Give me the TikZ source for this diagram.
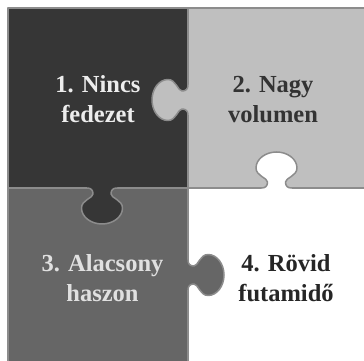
\documentclass[tikz,border=0pt]{standalone}
\usepackage{fontspec}
\setmainfont{Liberation Serif}
\usetikzlibrary{calc}

\definecolor{darkpiece}{HTML}{363636}
\definecolor{lightpiece}{HTML}{BFBFBF}
\definecolor{midpiece}{HTML}{666666}
\definecolor{seam}{HTML}{8C8C8C}

% one tab: base point, rotation, fill colour
\newcommand{\tab}[3]{%
  \begin{scope}[shift={#1}, rotate=#2]
    \fill[#3] (-15,-3) -- (-15,0) .. controls (-11,0) and (-9,2) .. (-9,6)
      .. controls (-9,10) and (-20.5,12) .. (-20.5,20)
      .. controls (-20.5,29) and (-11,36) .. (0,36)
      .. controls (11,36) and (20.5,29) .. (20.5,20)
      .. controls (20.5,12) and (9,10) .. (9,6)
      .. controls (9,2) and (11,0) .. (15,0) -- (15,-3) -- cycle;
    \draw[seamline] (-15,0) .. controls (-11,0) and (-9,2) .. (-9,6)
      .. controls (-9,10) and (-20.5,12) .. (-20.5,20)
      .. controls (-20.5,29) and (-11,36) .. (0,36)
      .. controls (11,36) and (20.5,29) .. (20.5,20)
      .. controls (20.5,12) and (9,10) .. (9,6)
      .. controls (9,2) and (11,0) .. (15,0);
  \end{scope}}

\begin{document}
\begin{tikzpicture}[x=1pt, y=1pt, line cap=round, line join=round,
    seamline/.style={draw=seam, line width=1.5pt},
    label/.style={align=center, anchor=base,
      font=\fontsize{24.5}{30}\selectfont\bfseries}]
    \useasboundingbox (0,0) rectangle (364,361);
    \clip (0,0) rectangle (364,361);

    % grid corners
    \coordinate (A) at (8,353);
    \coordinate (M) at (188,173);
    \coordinate (Z) at (368,-7);

    % the four pieces
    \filldraw[fill=darkpiece, seamline]  (A) rectangle (M);
    \filldraw[fill=lightpiece, seamline] (188,353) rectangle (368,173);
    \filldraw[fill=midpiece, seamline]   (8,173) rectangle (188,-7);
    \filldraw[fill=white, seamline]      (M) rectangle (Z);

    % tabs
    \tab{(188,261)}{90}{lightpiece}
    \tab{(102,173)}{180}{darkpiece}
    \tab{(276.5,173)}{0}{white}
    \tab{(188,86)}{-90}{midpiece}

    % labels (base = last line)
    \node[label, text=white!93!black] (nincs) at (98,238) {1. Nincs\\fedezet};
    \node[label, text=black!80] (nagy) at (273,238) {2. Nagy\\volumen};
    \node[label, text=white!88!black] (alacsony) at (102.5,59) {3. Alacsony\\haszon};
    \node[label, text=black!85] (rovid) at (286,59) {4. Rövid\\futamidő};
\end{tikzpicture}
\end{document}
